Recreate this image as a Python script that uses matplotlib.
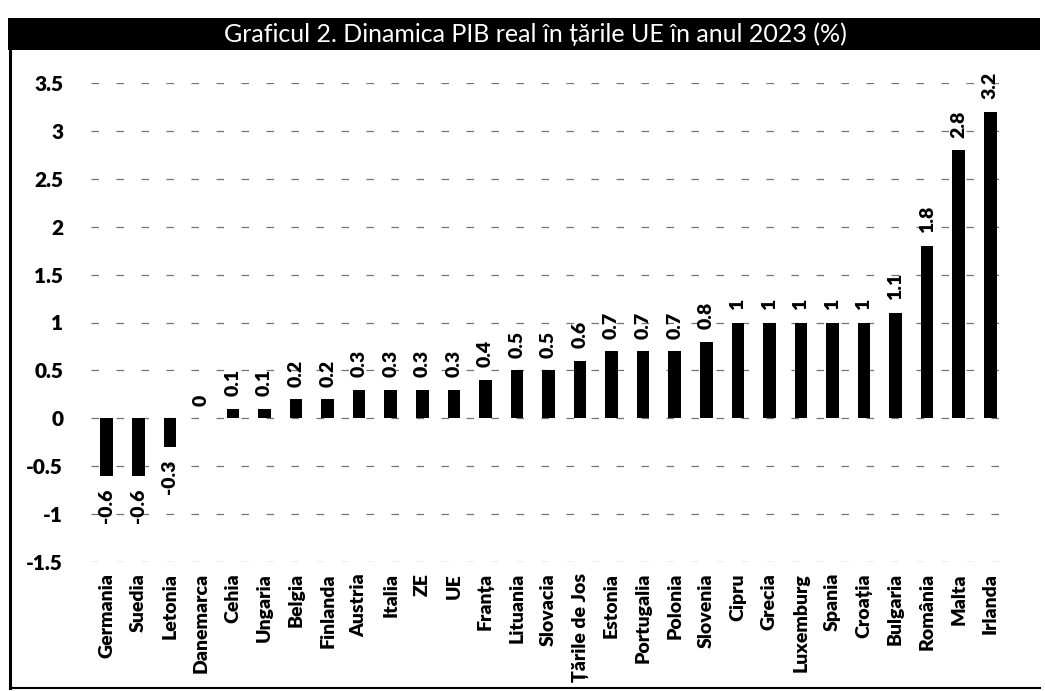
import matplotlib
matplotlib.use("Agg")
import matplotlib.pyplot as plt
from matplotlib.patches import Rectangle
from matplotlib.lines import Line2D

countries = ["Germania", "Suedia", "Letonia", "Danemarca", "Cehia", "Ungaria", "Belgia",
             "Finlanda", "Austria", "Italia", "ZE", "UE", "Franța", "Lituania", "Slovacia",
             "Țările de Jos", "Estonia", "Portugalia", "Polonia", "Slovenia", "Cipru", "Grecia",
             "Luxemburg", "Spania", "Croația", "Bulgaria", "România", "Malta", "Irlanda"]
growth = [-0.6, -0.6, -0.3, 0, 0.1, 0.1, 0.2, 0.2, 0.3, 0.3, 0.3, 0.3, 0.4, 0.5, 0.5,
          0.6, 0.7, 0.7, 0.7, 0.8, 1, 1, 1, 1, 1, 1.1, 1.8, 2.8, 3.2]
y_ticks = [-1.5, -1, -0.5, 0, 0.5, 1, 1.5, 2, 2.5, 3, 3.5]
title = "Graficul 2. Dinamica PIB real în țările UE în anul 2023 (%)"

plt.rcParams['font.family'] = ['Lato', 'DejaVu Sans']
FW = 'heavy'

fig = plt.figure(figsize=(10.45, 6.91), dpi=100)
W, H = 1045, 691

# title bar
fig.patches.append(Rectangle((8 / W, 1 - 50 / H), (1040 - 8) / W, 32 / H,
                             transform=fig.transFigure, facecolor='black',
                             edgecolor='none', zorder=0))
fig.text(535 / W, 1 - 34 / H, title, color='white', fontsize=18,
         ha='center', va='center')
# frame
fig.lines.append(Line2D([10 / W, 10 / W], [1 - 50 / H, 1 - 688 / H],
                        transform=fig.transFigure, color='black', lw=2.2))
fig.lines.append(Line2D([10 / W, 1040 / W], [1 - 688 / H, 1 - 688 / H],
                        transform=fig.transFigure, color='black', lw=1.5))

ax = fig.add_axes([91 / W, 1 - 562 / H, (1006 - 91) / W, (562 - 83) / H])
x = list(range(len(countries)))
ax.bar(x, growth, width=0.4, color='black', zorder=3)
ax.set_xlim(-0.5, len(countries) - 0.5)
ax.set_ylim(-1.5, 3.5)
ax.set_yticks(y_ticks)
ax.set_yticklabels([f"{v:g}" for v in y_ticks], fontsize=15, fontweight=FW)
ax.set_xticks(x)
ax.set_xticklabels(countries, rotation=90, fontsize=14, fontweight=FW)
ax.tick_params(axis='y', length=0, pad=20)
ax.tick_params(axis='x', length=0, pad=8)
for s in ax.spines.values():
    s.set_visible(False)
ax.yaxis.grid(True, color='0.45', lw=0.9, linestyle=(0, (6, 14)), zorder=0)
ax.set_axisbelow(True)
ax.patch.set_alpha(0)

for xi, v in zip(x, growth):
    if v >= 0:
        ax.annotate(f"{v:g}", (xi, v), xytext=(0, 9), textcoords='offset points',
                    rotation=90, ha='center', va='bottom', fontsize=14,
                    fontweight=FW)
    else:
        ax.annotate(f"{v:g}", (xi, v), xytext=(0, -9), textcoords='offset points',
                    rotation=90, ha='center', va='top', fontsize=14,
                    fontweight=FW)

fig.savefig("out.png", dpi=100, facecolor='white')
